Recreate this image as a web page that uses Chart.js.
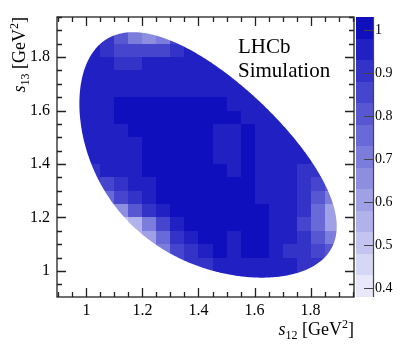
<!DOCTYPE html>
<html>
<head>
<meta charset="utf-8">
<script src="https://cdn.jsdelivr.net/npm/chart.js@4.4.1/dist/chart.umd.min.js"></script>
<style>
  html, body { margin: 0; padding: 0; background: #fff; }
  canvas { display: block; }
</style>
</head>
<body>
<canvas id="c" width="407" height="345"></canvas>
<script>
// efficiency map, bins of 0.05 GeV^2
const s12Bins = [0.975, 1.025, 1.075, 1.125, 1.175, 1.225, 1.275, 1.325, 1.375, 1.425,
  1.475, 1.525, 1.575, 1.625, 1.675, 1.725, 1.775, 1.825, 1.875, 1.925]
// rows from the top (high s13) down
const s13Bins = [1.875, 1.825, 1.775, 1.725, 1.675, 1.625, 1.575, 1.525, 1.475, 1.425,
  1.375, 1.325, 1.275, 1.225, 1.175, 1.125, 1.075, 1.025, 0.975]
const _ = null
const effMap = [
  [_, _, 0.88, 0.78, 0.68, 0.66, 0.72, 0.84, _, _, _, _, _, _, _, _, _, _, _, _],
  [_, 0.93, 0.90, 0.87, 0.84, 0.84, 0.87, 0.90, 0.93, 0.94, _, _, _, _, _, _, _, _, _, _],
  [0.93, 0.94, 0.93, 0.92, 0.92, 0.93, 0.94, 0.95, 0.95, 0.95, 0.95, _, _, _, _, _, _, _, _, _],
  [0.94, 0.95, 0.95, 0.95, 0.95, 0.95, 0.95, 0.95, 0.95, 0.95, 0.95, 0.95, _, _, _, _, _, _, _, _],
  [0.94, 0.95, 0.95, 0.96, 0.96, 0.96, 0.96, 0.96, 0.96, 0.96, 0.96, 0.95, 0.95, _, _, _, _, _, _, _],
  [0.94, 0.95, 0.96, 0.99, 0.99, 0.99, 0.99, 0.99, 0.99, 0.99, 0.99, 0.97, 0.95, 0.95, _, _, _, _, _, _],
  [0.94, 0.95, 0.97, 0.99, 0.99, 0.99, 0.99, 0.99, 0.99, 0.99, 0.99, 0.99, 0.96, 0.95, 0.95, _, _, _, _, _],
  [0.94, 0.95, 0.97, 0.95, 0.98, 0.99, 0.99, 0.99, 0.99, 0.99, 0.97, 0.96, 0.99, 0.96, 0.95, 0.94, _, _, _, _],
  [0.94, 0.94, 0.95, 0.94, 0.97, 0.99, 0.99, 0.99, 0.99, 0.99, 0.96, 0.96, 0.99, 0.96, 0.95, 0.94, 0.93, _, _, _],
  [0.93, 0.93, 0.94, 0.95, 0.97, 0.99, 0.99, 0.99, 0.99, 0.99, 0.97, 0.96, 0.99, 0.96, 0.95, 0.94, 0.93, 0.92, _, _],
  [_, 0.90, 0.93, 0.95, 0.96, 0.99, 0.99, 0.99, 0.99, 0.99, 0.99, 0.97, 0.99, 0.96, 0.95, 0.94, 0.92, 0.91, _, _],
  [_, 0.88, 0.85, 0.92, 0.95, 0.97, 0.99, 0.99, 0.99, 0.99, 0.99, 0.99, 0.99, 0.96, 0.95, 0.94, 0.91, 0.86, 0.82, _],
  [_, _, 0.75, 0.85, 0.92, 0.96, 0.98, 0.99, 0.99, 0.99, 0.99, 0.99, 0.99, 0.97, 0.95, 0.93, 0.89, 0.80, 0.72, _],
  [_, _, 0.60, 0.65, 0.80, 0.90, 0.95, 0.98, 0.99, 0.99, 0.99, 0.99, 0.99, 0.99, 0.96, 0.93, 0.88, 0.76, 0.62, _],
  [_, _, _, 0.50, 0.55, 0.72, 0.87, 0.95, 0.98, 0.99, 0.99, 0.99, 0.99, 0.99, 0.96, 0.93, 0.87, 0.75, 0.60, _],
  [_, _, _, _, 0.55, 0.62, 0.76, 0.88, 0.95, 0.98, 0.99, 0.96, 0.99, 0.99, 0.96, 0.93, 0.88, 0.80, 0.70, _],
  [_, _, _, _, _, 0.65, 0.72, 0.83, 0.91, 0.96, 0.98, 0.97, 0.98, 0.98, 0.95, 0.92, 0.90, 0.86, 0.80, _],
  [_, _, _, _, _, _, 0.82, 0.86, 0.89, 0.92, 0.94, 0.95, 0.95, 0.95, 0.94, 0.93, 0.92, 0.90, _, _],
  [_, _, _, _, _, _, _, _, _, 0.93, 0.94, 0.95, 0.95, 0.95, 0.94, 0.93, 0.92, _, _, _]
]
const binW = 0.05
const xTicks = [1, 1.2, 1.4, 1.6, 1.8]
const yTicks = [1, 1.2, 1.4, 1.6, 1.8]
const zTicks = [0.4, 0.5, 0.6, 0.7, 0.8, 0.9, 1]
const zMin = 0.38
const zMax = 1.03
const zStep = 0.05

// D+ -> K- K+ K+ kinematics, for the phase-space edge
const mD = 1.86966
const mK = 0.493677

const FONT = '"Liberation Serif", "Times New Roman", serif'
const nBands = Math.round((zMax - zMin) / zStep)
const lo = [232, 232, 250]
const hi = [15, 15, 190]

function bandColor (k) {
  const t = k / (nBands - 1)
  const c = lo.map((l, i) => Math.round(l + (hi[i] - l) * t))
  return `rgb(${c[0]},${c[1]},${c[2]})`
}

function colorFor (v) {
  let k = Math.floor((v - zMin) / zStep + 1e-9)
  k = Math.max(0, Math.min(nBands - 1, k))
  return bandColor(k)
}

function s13Limits (s12) {
  const m2 = mK * mK
  const r = Math.sqrt(s12)
  const e2 = r / 2
  const e3 = (mD * mD - s12 - m2) / (2 * r)
  const p2 = Math.sqrt(Math.max(e2 * e2 - m2, 0))
  const p3 = Math.sqrt(Math.max(e3 * e3 - m2, 0))
  const sum = (e2 + e3) * (e2 + e3)
  return [sum - (p2 + p3) * (p2 + p3), sum - (p2 - p3) * (p2 - p3)]
}

function dalitzPath (ctx, x, y) {
  const a = 4 * mK * mK
  const b = (mD - mK) * (mD - mK)
  const n = 300
  const up = []
  const dn = []
  for (let i = 0; i <= n; i++) {
    const s = a + (b - a) * (1 - Math.cos(Math.PI * i / n)) / 2
    const [l, h] = s13Limits(s)
    up.push([x.getPixelForValue(s), y.getPixelForValue(h)])
    dn.push([x.getPixelForValue(s), y.getPixelForValue(l)])
  }
  ctx.beginPath()
  up.forEach((p, i) => i ? ctx.lineTo(p[0], p[1]) : ctx.moveTo(p[0], p[1]))
  dn.reverse().forEach(p => ctx.lineTo(p[0], p[1]))
  ctx.closePath()
}

const cells = []
s13Bins.forEach((yv, r) => {
  s12Bins.forEach((xv, c) => {
    const v = effMap[r][c]
    if (v !== null) cells.push({ x: xv, y: yv, v })
  })
})

const heatmap = {
  id: 'heatmap',
  beforeDatasetsDraw (chart) {
    const { ctx, scales: { x, y } } = chart
    ctx.save()
    dalitzPath(ctx, x, y)
    ctx.clip()
    chart.data.datasets[0].data.forEach(p => {
      const x0 = Math.round(x.getPixelForValue(p.x - binW / 2))
      const x1 = Math.round(x.getPixelForValue(p.x + binW / 2))
      const y0 = Math.round(y.getPixelForValue(p.y - binW / 2))
      const y1 = Math.round(y.getPixelForValue(p.y + binW / 2))
      ctx.fillStyle = colorFor(p.v)
      ctx.fillRect(x0, y1, x1 - x0, y0 - y1)
    })
    ctx.restore()
  }
}

function drawRich (ctx, parts, x0, y0) {
  let x = x0
  parts.forEach(p => {
    ctx.font = p.f
    ctx.fillText(p.t, x, y0 + (p.dy || 0))
    x += ctx.measureText(p.t).width
  })
}

function richWidth (ctx, parts) {
  return parts.reduce((w, p) => { ctx.font = p.f; return w + ctx.measureText(p.t).width }, 0)
}

function titleParts (sub) {
  return [
    { t: 's', f: 'italic 18px ' + FONT },
    { t: sub, f: '12px ' + FONT, dy: 4 },
    { t: ' [GeV', f: '18px ' + FONT },
    { t: '2', f: '12px ' + FONT, dy: -7 },
    { t: ']', f: '18px ' + FONT }
  ]
}

const frame = {
  id: 'frame',
  afterDraw (chart) {
    const { ctx, chartArea: a, scales: { x, y, z } } = chart
    ctx.save()
    ctx.strokeStyle = '#222'
    ctx.lineWidth = 1.3

    // axis ticks, inward on all four sides
    ctx.beginPath()
    for (let i = 0; ; i++) {
      const v = +(0.9 + i * 0.05).toFixed(2)
      if (v > x.max) break
      if (v < x.min) continue
      const major = Math.abs(v / 0.2 - Math.round(v / 0.2)) < 1e-6
      const len = major ? 9 : 5
      const px = Math.round(x.getPixelForValue(v)) + 0.5
      ctx.moveTo(px, a.bottom); ctx.lineTo(px, a.bottom - len)
      ctx.moveTo(px, a.top); ctx.lineTo(px, a.top + len)
    }
    for (let i = 0; ; i++) {
      const v = +(0.9 + i * 0.05).toFixed(2)
      if (v > y.max) break
      if (v < y.min) continue
      const major = Math.abs(v / 0.2 - Math.round(v / 0.2)) < 1e-6
      const len = major ? 9 : 5
      const py = Math.round(y.getPixelForValue(v)) + 0.5
      ctx.moveTo(a.left, py); ctx.lineTo(a.left + len, py)
      ctx.moveTo(a.right, py); ctx.lineTo(a.right - len, py)
    }
    ctx.stroke()
    ctx.strokeRect(a.left, a.top, a.right - a.left, a.bottom - a.top)

    // colour bar
    const bx0 = z.left + 2
    const bx1 = z.left + 19
    for (let k = 0; k < nBands; k++) {
      const yb = Math.round(z.getPixelForValue(zMin + k * zStep))
      const yt = Math.round(z.getPixelForValue(zMin + (k + 1) * zStep))
      ctx.fillStyle = bandColor(k)
      ctx.fillRect(bx0, yt, bx1 - bx0, yb - yt)
    }
    ctx.strokeStyle = '#444'
    ctx.lineWidth = 1.2
    ctx.beginPath()
    ctx.moveTo(bx1 + 0.5, a.top); ctx.lineTo(bx1 + 0.5, a.bottom)
    zTicks.forEach(v => {
      const py = Math.round(z.getPixelForValue(v)) + 0.5
      ctx.moveTo(bx1 - 9, py); ctx.lineTo(bx1 + 1, py)
    })
    ctx.stroke()

    // labels
    ctx.fillStyle = '#000'
    ctx.textBaseline = 'alphabetic'
    ctx.font = '21px ' + FONT
    ctx.fillText('LHCb', 238, 53)
    ctx.fillText('Simulation', 238, 77)

    const xt = titleParts('12')
    drawRich(ctx, xt, a.right - richWidth(ctx, xt), 335)

    const yt = titleParts('13')
    ctx.translate(25, a.top)
    ctx.rotate(-Math.PI / 2)
    drawRich(ctx, yt, -richWidth(ctx, yt), 0)
    ctx.restore()
  }
}

const tickFont = { family: FONT, size: 16 }
const hiddenGrid = len => ({ display: true, drawOnChartArea: false, drawTicks: true, tickLength: len, color: 'rgba(0,0,0,0)' })

new Chart(document.getElementById('c'), {
  type: 'scatter',
  data: {
    datasets: [{
      data: cells,
      pointRadius: 0,
      pointHoverRadius: 0
    }]
  },
  options: {
    responsive: false,
    animation: false,
    events: [],
    layout: { padding: { top: 17, left: 0, right: 0, bottom: 0 } },
    plugins: { legend: { display: false }, tooltip: { enabled: false } },
    scales: {
      x: {
        type: 'linear',
        min: 0.895,
        max: 1.955,
        grid: hiddenGrid(3),
        border: { display: false },
        afterBuildTicks: s => { s.ticks = xTicks.map(v => ({ value: v })) },
        afterFit: s => { s.height = 48 },
        ticks: { font: tickFont, color: '#000', padding: 1, maxRotation: 0, callback: v => String(v) }
      },
      y: {
        type: 'linear',
        min: 0.9025,
        max: 1.95,
        grid: hiddenGrid(5),
        border: { display: false },
        afterBuildTicks: s => { s.ticks = yTicks.map(v => ({ value: v })) },
        afterFit: s => { s.width = 57 },
        ticks: { font: tickFont, color: '#000', padding: 2, callback: v => String(v) }
      },
      z: {
        type: 'linear',
        position: 'right',
        min: zMin,
        max: zMax,
        grid: hiddenGrid(19),
        border: { display: false },
        afterBuildTicks: s => { s.ticks = zTicks.map(v => ({ value: v })) },
        afterFit: s => { s.width = 53 },
        ticks: { font: { family: FONT, size: 14 }, color: '#000', padding: 2, callback: v => String(v) }
      }
    }
  },
  plugins: [heatmap, frame]
})
</script>
</body>
</html>
